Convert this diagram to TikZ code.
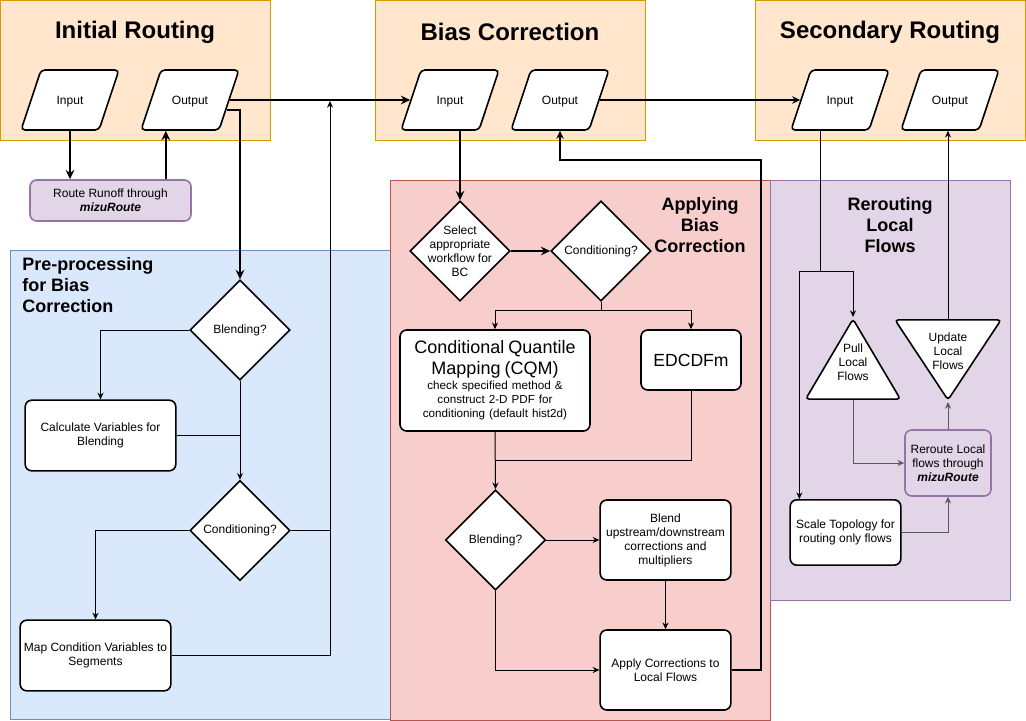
\documentclass[tikz,border=0pt]{standalone}
\usepackage{fontspec}
\setmainfont{Liberation Sans}
\usetikzlibrary{shapes.geometric,arrows.meta,calc}

\definecolor{orfill}{HTML}{FFE6CC}
\definecolor{ordraw}{HTML}{D79B00}
\definecolor{blfill}{HTML}{DAE8FC}
\definecolor{bldraw}{HTML}{6C8EBF}
\definecolor{refill}{HTML}{F8CECC}
\definecolor{redraw}{HTML}{B85450}
\definecolor{pufill}{HTML}{E1D5E7}
\definecolor{pudraw}{HTML}{9673A6}

\newcommand{\smalltxt}{\fontsize{9}{10.5}\selectfont}

\begin{document}
\begin{tikzpicture}
        [%%%%%%%%%%%%%%%%%%%%%%%%%%%%%%
            x=0.75pt,y=-0.75pt,
            title/.style={font=\fontsize{18}{21}\selectfont\bfseries},
            sect/.style={font=\fontsize{13.5}{15.75}\selectfont\bfseries, align=center, inner sep=0pt},
            io/.style={trapezium, trapezium left angle=71.6, trapezium right angle=108.4,
                text width=43.5pt, text height=25.7pt, text depth=19.3pt, align=center,
                inner sep=0pt, draw, fill=white, line width=1.2pt, rounded corners=3pt, font=\smalltxt},
            proc/.style={rectangle, rounded corners=5pt, draw, fill=white, line width=1.2pt, align=center,
                inner sep=1pt, font=\smalltxt},
            decision/.style={diamond, aspect=1, draw, fill=white, line width=1.2pt, minimum width=75pt,
                minimum height=75pt, inner sep=0pt, font=\smalltxt},
            tri/.style={isosceles triangle, isosceles triangle stretches, shape border rotate=90, draw, fill=white,
                line width=1.2pt, rounded corners=2.5pt, minimum width=71pt, minimum height=60pt, inner sep=0pt},
            trilabel/.style={align=center, font=\smalltxt, inner sep=0pt},
            link/.style={line width=0.75pt},
            flow/.style={line width=0.75pt, -{Stealth[length=5pt,width=4.5pt]}},
            midflow/.style={line width=1.1pt, -{Stealth[length=6pt,width=5.5pt]}},
            mainflow/.style={line width=1.5pt, -{Stealth[length=7pt,width=6.5pt]}},
            greyflow/.style={flow, draw=black!65},
        ]%%%%%%%%%%%%%%%%%%%%%%%%%%%%%%

        \useasboundingbox (0,0) rectangle (1026,721);

        % groups
        \draw[fill=orfill, draw=ordraw] (0,0) rectangle (270,140);
        \draw[fill=orfill, draw=ordraw] (375,0) rectangle (645,140);
        \draw[fill=orfill, draw=ordraw] (755,0) rectangle (1025,140);
        \draw[fill=blfill, draw=bldraw] (10,250) rectangle (390,719);
        \draw[fill=refill, draw=redraw] (390,180) rectangle (770,720);
        \draw[fill=pufill, draw=pudraw] (770,180) rectangle (1010,600);

        \node[title] (t1) at (135,32) {Initial Routing};
        \node[title] (t2) at (510,32) {Bias Correction};
        \node[title] (t3) at (890,32) {Secondary Routing};

        \node[sect, anchor=west, align=left] (s1) at (22,285.5) {Pre-processing\\for Bias\\Correction};
        \node[sect] (s2) at (700,225) {Applying\\Bias\\Correction};
        \node[sect] (s3) at (890,225) {Rerouting\\Local\\Flows};

        % inputs and outputs
        \node[io] (in1) at (70,100) {Input};
        \node[io] (out1) at (190,100) {Output};
        \node[io] (in2) at (450,100) {Input};
        \node[io] (out2) at (560,100) {Output};
        \node[io] (in3) at (840,100) {Input};
        \node[io] (out3) at (950,100) {Output};

        \node[proc, fill=pufill, draw=pudraw, minimum width=120.75pt, minimum height=30.75pt] (route) at (110.5,200.5)
            {Route Runoff through\\\textbf{\textit{mizuRoute}}};

        % pre-processing
        \node[decision] (blend1) at (240,330) {Blending?};
        \node[proc, minimum width=113pt, minimum height=53pt] (calc) at (100.5,435.5) {Calculate Variables for\\Blending};
        \node[decision] (cond1) at (240,530.5) {Conditioning?};
        \node[proc, minimum width=113pt, minimum height=53pt] (map) at (95.5,655.5) {Map Condition Variables to\\Segments};

        % applying bias correction
        \node[decision, label={[align=center, font=\smalltxt]center:Select\\appropriate\\workflow for\\BC}] (sel) at (460,251) {};
        \node[decision] (cond2) at (601,251) {Conditioning?};
        \node[proc, minimum width=142.5pt, minimum height=75.75pt, text width=140pt] (cqm) at (495,380.5)
            {{\fontsize{13.5}{15.75}\selectfont Conditional Quantile\\Mapping (CQM)\par}
             \fontsize{8.75}{11}\selectfont check specified method \&\\construct 2-D PDF for\\conditioning (default hist2d)};
        \node[proc, minimum width=75pt, minimum height=45pt, font=\fontsize{13.2}{15}\selectfont] (edc) at (691,360) {EDCDFm};
        \node[decision] (blend2) at (495.5,540) {Blending?};
        \node[proc, minimum width=98pt, minimum height=60pt] (mix) at (665.5,540)
            {Blend\\upstream/downstream\\corrections and\\multipliers};
        \node[proc, minimum width=98pt, minimum height=60pt] (apply) at (665.5,670) {Apply Corrections to\\Local Flows};

        % rerouting local flows
        \node[tri, anchor=apex, label={[trilabel, yshift=7.5pt]center:Pull\\Local\\Flows}] (pull) at (853,317) {};
        \node[tri, anchor=apex, shape border rotate=270, minimum width=79.5pt,
            label={[trilabel, yshift=-2.5pt]center:Update\\Local\\Flows}] (update) at (948,402) {};
        \node[proc, fill=pufill, draw=pudraw, minimum width=64.5pt, minimum height=49.5pt] (reroute) at (948,463)
            {Reroute Local\\flows through\\\textbf{\textit{mizuRoute}}};
        \node[proc, minimum width=83pt, minimum height=49pt] (scale) at (845.5,532.5) {Scale Topology for\\routing only flows};

        % connectors
        \draw[mainflow] (in1.-90) -- (in1.-90 |- route.north);
        \draw[mainflow] ([xshift=-19.5pt]route.north east) -- ([xshift=-19.5pt]route.north east |- out1.south);
        \draw[mainflow] (out1.east) -- (in2.west);
        \draw[mainflow] (out1.-15) -| (blend1.north);

        \draw[flow] (blend1.west) -| (calc.north);
        \draw[link] (calc.east) -- (calc.east -| blend1.south);
        \draw[flow] (blend1.south) -- (cond1.north);
        \draw[flow] (cond1.west) -| (map.north);
        \coordinate (join) at (330,101);
        \draw[link] (cond1.east) -- (cond1.east -| join);
        \draw[flow] (map.east) -| (join);

        \draw[mainflow] (sel.north |- in2.south) -- (sel.north);
        \draw[mainflow] (sel.east) -- (cond2.west);
        \draw[flow] (cond2.south) -- ++(0,9) -| (cqm.north);
        \draw[flow] (cond2.south) -- ++(0,9) -| (edc.north);
        \draw[flow] (cqm.south) -- (blend2.north);
        \draw[link] (edc.south) |- ($(cqm.south)!.5!(blend2.north)$);
        \draw[flow] (blend2.east) -- (mix.west);
        \draw[flow] (mix.south) -- (apply.north);
        \draw[flow] (blend2.south) |- (apply.west);
        \coordinate (back) at (761,160);
        \draw[midflow] (apply.east) -| (back) -| (out2.-90);
        \draw[midflow] (out2.east) -- (in3.west);

        \coordinate (fork) at (820,271);
        \draw[link] (fork |- in3.south) -- (fork);
        \draw[flow] (fork) -| (pull.apex);
        \draw[flow] (fork) -| ([xshift=7.5pt]scale.north west);
        \draw[greyflow] (pull.-90) |- (reroute.west);
        \draw[greyflow] (scale.east) -| (reroute.south);
        \draw[greyflow] (reroute.north) -- (update.apex);
        \draw[flow] (update.90) -- (update.90 |- out3.south);
    \end{tikzpicture}
\end{document}
